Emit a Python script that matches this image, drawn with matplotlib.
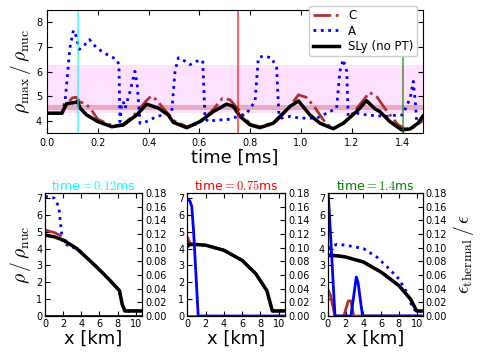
import numpy as np
import matplotlib
matplotlib.use("Agg")
import matplotlib.pyplot as plt

plt.rcParams["mathtext.fontset"] = "cm"
plt.rcParams["xtick.direction"] = "in"
plt.rcParams["ytick.direction"] = "in"
plt.rcParams["font.size"] = 7

# ---- top panel: max density vs time ----
t_sly = [0.0, 0.058, 0.077, 0.113, 0.12, 0.13, 0.156, 0.2, 0.255, 0.3, 0.353, 0.392,
         0.438, 0.477, 0.497, 0.55, 0.602, 0.655, 0.707, 0.733, 0.76, 0.8, 0.838,
         0.89, 0.957, 0.99, 1.035, 1.075, 1.127, 1.166, 1.219, 1.258, 1.291, 1.31,
         1.35, 1.396, 1.43, 1.46, 1.48]
rho_sly = [4.30, 4.30, 4.69, 4.74, 4.78, 4.51, 4.23, 3.96, 3.75, 3.82, 4.23, 4.67,
           4.51, 4.23, 3.93, 3.71, 3.96, 4.37, 4.67, 4.58, 4.17, 3.82, 3.71,
           3.89, 4.58, 4.80, 4.23, 3.89, 3.67, 3.89, 4.37, 4.81, 4.48, 4.37,
           3.96, 3.62, 3.66, 3.89, 4.18]

t_a = [0.0, 0.058, 0.071, 0.09, 0.104, 0.114, 0.127, 0.143, 0.167, 0.196, 0.235,
       0.274, 0.283, 0.287, 0.293, 0.30, 0.307, 0.327, 0.346, 0.355, 0.366, 0.392,
       0.432, 0.458, 0.491, 0.504, 0.517, 0.543, 0.563, 0.589, 0.613, 0.622, 0.635,
       0.668, 0.707, 0.753, 0.786, 0.819, 0.832, 0.851, 0.884, 0.904, 0.913, 0.923,
       0.957, 0.996, 1.062, 1.101, 1.14, 1.153, 1.166, 1.18, 1.186, 1.219, 1.258,
       1.337, 1.383, 1.4, 1.43, 1.442, 1.451, 1.455, 1.48]
rho_a = [4.30, 4.30, 4.78, 6.97, 7.68, 7.45, 6.90, 7.03, 7.30, 6.95, 6.70,
         6.49, 6.29, 3.96, 4.60, 4.78, 4.50, 5.19, 6.01, 5.47, 3.89, 3.96,
         4.17, 4.23, 4.37, 6.01, 6.56, 6.42, 6.28, 6.42, 6.45, 4.10, 3.96,
         4.03, 4.03, 4.17, 4.30, 4.78, 6.56, 6.63, 6.56, 6.15, 4.23, 4.10,
         4.17, 4.10, 4.10, 4.30, 4.50, 6.01, 6.49, 6.01, 4.10, 4.30, 4.23,
         4.17, 4.23, 4.23, 4.92, 5.60, 4.65, 4.03, 4.10]

t_c = [0.0, 0.06, 0.08, 0.1, 0.115, 0.13, 0.15, 0.17, 0.2, 0.26, 0.3, 0.35, 0.39,
       0.41, 0.43, 0.45, 0.5, 0.55, 0.6, 0.65, 0.69, 0.72, 0.75, 0.8, 0.84, 0.9,
       0.95, 0.99, 1.02, 1.05, 1.1, 1.13, 1.17, 1.22, 1.27, 1.3, 1.33, 1.38, 1.41,
       1.44, 1.48]
rho_c = [4.30, 4.30, 4.70, 4.93, 4.95, 4.75, 4.70, 4.50, 4.05, 3.78, 3.85, 4.30, 4.80,
         5.00, 4.85, 4.60, 4.00, 3.75, 3.90, 4.40, 4.90, 4.85, 4.50, 3.85, 3.75, 3.95,
         4.50, 5.05, 4.95, 4.60, 3.85, 3.70, 3.90, 4.50, 5.15, 4.95, 4.50, 3.85, 3.65,
         3.70, 4.00]

snap_times = [0.12, 0.75, 1.4]
snap_colors = ["cyan", "red", "green"]
snap_titles = [r"time$\mathsf{=0.12}$ms", r"time$\mathsf{=0.75}$ms", r"time$\mathsf{=1.4}$ms"]

# ---- bottom panels: radial profiles ----
x_sly = [[0, 1, 2, 3.5, 4.5, 5.7, 7, 8.2, 8.5, 8.8, 10.5],
         [0, 1, 2, 4, 6, 7.5, 8.7, 9.0, 9.3, 10.5],
         [0, 1, 2, 4, 6, 8, 9.3, 9.7, 10.0, 10.5]]
r_sly = [[4.8, 4.7, 4.5, 4.0, 3.5, 2.9, 2.2, 1.5, 0.7, 0.3, 0.3],
         [4.25, 4.24, 4.2, 3.9, 3.3, 2.5, 1.5, 0.9, 0.3, 0.3],
         [3.6, 3.57, 3.5, 3.2, 2.6, 1.8, 1.0, 0.6, 0.3, 0.3]]

x_c = [[0, 1, 1.6, 2, 2.5, 3.5, 4.5, 5.7, 7, 8.2, 8.5, 8.8, 10.5],
       [0, 0.3, 0.6, 1, 2, 4, 6, 7.5, 8.7, 9.0, 9.3, 10.5],
       [0, 1, 2, 4, 6, 8, 9.3, 9.7, 10.0, 10.5]]
r_c = [[5.1, 4.95, 4.8, 4.6, 4.35, 4.0, 3.5, 2.9, 2.2, 1.5, 0.7, 0.3, 0.3],
       [4.7, 4.3, 4.25, 4.24, 4.2, 3.9, 3.3, 2.5, 1.5, 0.9, 0.3, 0.3],
       [3.65, 3.6, 3.52, 3.22, 2.62, 1.82, 1.0, 0.6, 0.3, 0.3]]

x_a = [[0, 1, 1.5, 1.8, 2, 3, 4, 4.5, 5.7, 7, 8.2, 8.5, 8.8, 10.5],
       [0, 0.3, 1, 2, 4, 6, 7.5, 8.7, 9.0, 9.3, 10.5],
       [0, 1, 2, 4, 5.5, 6.5, 8, 9, 9.5, 10, 10.5]]
r_a = [[7.1, 7.0, 6.5, 5.0, 4.3, 4.1, 3.8, 3.5, 2.9, 2.2, 1.5, 0.7, 0.3, 0.3],
       [4.1, 4.2, 4.22, 4.2, 3.9, 3.3, 2.5, 1.5, 0.9, 0.3, 0.3],
       [4.0, 4.25, 4.2, 4.0, 3.5, 3.0, 2.2, 1.3, 0.5, 0.25, 0.25]]

# thermal fraction eps_thermal/eps (right axis)
x_th_a = [[0, 10.5],
          [0, 0.3, 0.5, 0.7, 1.2, 10.5],
          [0, 0.8, 2.6, 3.2, 3.4, 3.9, 10.5]]
th_a = [[0.0, 0.0],
        [0.172, 0.168, 0.16, 0.123, 0.0, 0.0],
        [0.19, 0.0, 0.0, 0.057, 0.049, 0.0, 0.0]]
x_th_c = [[0, 10.5],
          [0, 10.5],
          [0, 0.3, 0.8, 1.8, 2.3, 2.6, 2.9, 10.5]]
th_c = [[0.0, 0.0],
        [0.0, 0.0],
        [0.039, 0.03, 0.0, 0.0, 0.022, 0.022, 0.0, 0.0]]

c_red = "#b03030"

fig = plt.figure(figsize=(4.85, 3.63), dpi=100)

ax = fig.add_axes([0.097, 0.634, 0.775, 0.338])
ax.axhspan(4.29, 6.28, color="magenta", alpha=0.12, lw=0)
ax.axhspan(4.44, 4.64, color="#b03030", alpha=0.3, lw=0)
ax.plot(t_c, rho_c, "-.", color=c_red, lw=2, label="C")
ax.plot(t_a, rho_a, ":", color="blue", lw=2, label="A")
ax.plot(t_sly, rho_sly, "-", color="black", lw=2.5, label="SLy (no PT)")
for ts, col in zip(snap_times, snap_colors):
    ax.axvline(ts, color=col, lw=1.2, alpha=0.7)
ax.set_xlim(0, 1.48)
ax.set_ylim(3.5, 8.5)
ax.set_xticks(np.arange(0, 1.41, 0.2))
ax.set_yticks([4, 5, 6, 7, 8])
ax.tick_params(top=True, right=True)
ax.set_xlabel("time [ms]", fontsize=13, labelpad=1)
ax.set_ylabel(r"$\rho_{\rm max}\,/\,\rho_{\rm nuc}$", fontsize=14, labelpad=2)
ax.legend(loc="upper right", bbox_to_anchor=(1.0, 1.085), fontsize=8.5,
          handlelength=2.2, framealpha=1, fancybox=True, borderpad=0.3,
          labelspacing=0.2)

panel_x = [0.093, 0.386, 0.676]
panel_w = [0.200, 0.202, 0.196]
for i in range(3):
    axb = fig.add_axes([panel_x[i], 0.1295, panel_w[i], 0.339])
    axr = axb.twinx()
    axb.plot(x_c[i], r_c[i], "-.", color=c_red, lw=2)
    axb.plot(x_a[i], r_a[i], ":", color="blue", lw=2)
    axb.plot(x_sly[i], r_sly[i], "-", color="black", lw=2.5)
    axr.plot(x_th_c[i], th_c[i], "-", color=c_red, lw=2)
    axr.plot(x_th_a[i], th_a[i], "-", color="blue", lw=2)
    axb.set_xlim(0, 10.7)
    axb.set_ylim(0, 7.3)
    axr.set_ylim(0, 0.18)
    axb.set_xticks([0, 2, 4, 6, 8, 10])
    axb.set_yticks(range(8))
    axr.set_yticks(np.arange(0, 0.181, 0.02))
    axr.set_yticklabels(["%.2f" % v for v in np.arange(0, 0.181, 0.02)])
    axb.tick_params(top=True, pad=2)
    axr.tick_params(pad=2)
    axb.set_xlabel("x [km]", fontsize=13, labelpad=1)
    axb.set_title(snap_titles[i], color=snap_colors[i], fontsize=9, pad=2)
    if i == 0:
        axb.set_ylabel(r"$\rho\,/\,\rho_{\rm nuc}$", fontsize=14, labelpad=2)
    if i == 2:
        axr.set_ylabel(r"$\epsilon_{\rm thermal}\,/\,\epsilon$", fontsize=14, labelpad=3)

fig.savefig("out.png", dpi=100)
